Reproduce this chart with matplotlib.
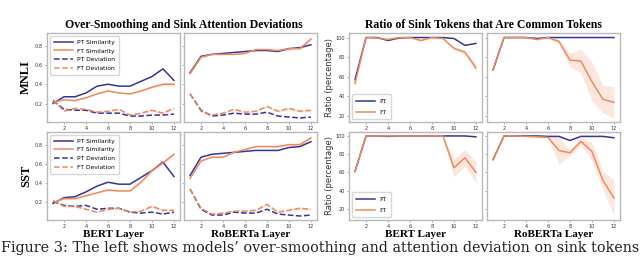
import numpy as np
import matplotlib
matplotlib.use("Agg")
import matplotlib.pyplot as plt

layers = list(range(1, 13))

# over-smoothing / deviation curves (MNLI row, SST row)
mnli_bert_pt_sim = [0.20, 0.27, 0.27, 0.31, 0.38, 0.40, 0.38, 0.38, 0.43, 0.48, 0.56, 0.44]
mnli_bert_ft_sim = [0.21, 0.24, 0.23, 0.26, 0.30, 0.33, 0.31, 0.30, 0.33, 0.37, 0.40, 0.40]
mnli_bert_pt_dev = [0.23, 0.14, 0.13, 0.13, 0.10, 0.10, 0.10, 0.07, 0.07, 0.08, 0.08, 0.09]
mnli_bert_ft_dev = [0.24, 0.12, 0.15, 0.14, 0.11, 0.12, 0.14, 0.08, 0.10, 0.13, 0.10, 0.15]
mnli_rob_pt_sim = [0.52, 0.69, 0.71, 0.72, 0.73, 0.74, 0.75, 0.75, 0.74, 0.77, 0.78, 0.81]
mnli_rob_ft_sim = [0.51, 0.68, 0.71, 0.71, 0.71, 0.72, 0.76, 0.76, 0.75, 0.77, 0.77, 0.87]
mnli_rob_pt_dev = [0.30, 0.13, 0.07, 0.08, 0.10, 0.09, 0.09, 0.11, 0.07, 0.06, 0.05, 0.06]
mnli_rob_ft_dev = [0.30, 0.12, 0.08, 0.10, 0.14, 0.11, 0.12, 0.17, 0.12, 0.15, 0.12, 0.13]

sst_bert_pt_sim = [0.19, 0.25, 0.26, 0.31, 0.37, 0.41, 0.39, 0.39, 0.46, 0.53, 0.62, 0.47]
sst_bert_ft_sim = [0.20, 0.24, 0.24, 0.27, 0.30, 0.33, 0.32, 0.32, 0.41, 0.53, 0.61, 0.70]
sst_bert_pt_dev = [0.21, 0.17, 0.16, 0.17, 0.13, 0.14, 0.14, 0.10, 0.09, 0.10, 0.08, 0.10]
sst_bert_ft_dev = [0.22, 0.16, 0.16, 0.13, 0.10, 0.13, 0.14, 0.10, 0.11, 0.16, 0.12, 0.12]
sst_rob_pt_sim = [0.48, 0.67, 0.70, 0.71, 0.72, 0.73, 0.74, 0.74, 0.74, 0.77, 0.78, 0.83]
sst_rob_ft_sim = [0.45, 0.63, 0.67, 0.67, 0.72, 0.75, 0.78, 0.78, 0.78, 0.80, 0.80, 0.87]
sst_rob_pt_dev = [0.34, 0.13, 0.07, 0.07, 0.10, 0.09, 0.09, 0.13, 0.08, 0.07, 0.06, 0.07]
sst_rob_ft_dev = [0.34, 0.14, 0.08, 0.09, 0.11, 0.11, 0.12, 0.18, 0.10, 0.12, 0.14, 0.13]

# small spread around FT curves
ft_sim_spread = [0.0, 0.005, 0.005, 0.005, 0.005, 0.005, 0.005, 0.005, 0.01, 0.01, 0.015, 0.02]
ft_dev_spread = [0.0, 0.005, 0.005, 0.005, 0.008, 0.008, 0.008, 0.01, 0.01, 0.012, 0.012, 0.01]

# ratio of sink tokens that are common tokens (%)
mnli_bert_pt_ratio = [57, 100, 100, 97, 99.5, 100, 100, 100, 100, 99, 92, 94]
mnli_bert_ft_ratio = [53, 100, 99.5, 98, 100, 100, 97, 100, 99, 89, 85, 69]
mnli_bert_ft_spread = [0, 0, 0.5, 0.5, 0.5, 0.5, 1, 0.5, 1, 1.5, 2.5, 4]
mnli_rob_pt_ratio = [67, 100, 100, 100, 99, 100, 100, 100, 100, 100, 100, 100]
mnli_rob_ft_ratio = [67, 100, 100, 100, 98, 100, 96, 77, 76, 55, 37, 34]
mnli_rob_ft_spread = [0, 0, 0, 0, 1, 0.5, 2, 7, 12, 20, 14, 16]

sst_bert_pt_ratio = [61, 100, 100, 99.5, 100, 100, 100, 100, 100, 100, 100, 99]
sst_bert_ft_ratio = [61, 100, 100, 100, 100, 100, 100, 100, 100, 65, 76, 60]
sst_bert_ft_spread = [0, 0, 0, 0, 0, 0, 0, 0, 0, 10, 9, 12]
sst_rob_pt_ratio = [74, 100, 100, 100, 100, 99.5, 99.5, 95, 99.5, 99.5, 99.5, 98]
sst_rob_ft_ratio = [74, 100, 100, 99.5, 99, 98.5, 84, 81.5, 94, 83, 51, 32]
sst_rob_ft_spread = [0, 0, 0, 0, 0.5, 1, 15, 3, 4, 10, 10, 20]

PT = "#34349a"
FT = "#ef8a5c"
SPINE = "#b8b8b8"
serif = ["Liberation Serif", "DejaVu Serif"]

fig = plt.figure(figsize=(6.4, 2.56), dpi=100)

W = 0.2078
xs = [0.0734, 0.2875, 0.5453, 0.7609]
ys = [0.5234, 0.1406]
hs = [0.3477, 0.344]


def style(ax):
    for s in ax.spines.values():
        s.set_color(SPINE)
        s.set_linewidth(1.0)
    ax.tick_params(length=1.5, width=0.5, color="#888888", pad=1.5,
                   labelsize=3.6, labelcolor="#333333")
    ax.set_xticks([2, 4, 6, 8, 10, 12])


def sim_panel(ax, pt_sim, ft_sim, pt_dev, ft_dev, legend):
    x = np.array(layers)
    ax.plot(x, pt_sim, color=PT, lw=1.1, label="PT Similarity")
    ax.plot(x, ft_sim, color=FT, lw=1.1, label="FT Similarity")
    ax.fill_between(x, np.array(ft_sim) - ft_sim_spread, np.array(ft_sim) + ft_sim_spread,
                    color=FT, alpha=0.2, lw=0)
    ax.plot(x, pt_dev, color=PT, lw=1.1, ls="--", label="PT Deviation")
    ax.plot(x, ft_dev, color=FT, lw=1.1, ls="--", label="FT Deviation")
    ax.fill_between(x, np.array(ft_dev) - ft_dev_spread, np.array(ft_dev) + ft_dev_spread,
                    color=FT, alpha=0.2, lw=0)
    style(ax)
    if legend:
        ax.legend(loc="upper left", fontsize=4.3, handlelength=3.2, borderpad=0.6,
                  labelspacing=0.6, frameon=True, edgecolor="#cccccc", fancybox=True)


def ratio_panel(ax, pt, ft, spread, legend):
    x = np.array(layers)
    ax.plot(x, pt, color=PT, lw=1.1, label="PT")
    ax.plot(x, ft, color=FT, lw=1.1, label="FT")
    ax.fill_between(x, np.array(ft) - spread, np.array(ft) + spread,
                    color=FT, alpha=0.2, lw=0)
    style(ax)
    ax.set_yticks([20, 40, 60, 80, 100])
    if legend:
        ax.legend(loc="lower left", handlelength=3.0, borderpad=0.7,
                  labelspacing=0.9, frameon=True, edgecolor="#cccccc",
                  prop={"family": serif, "size": 4.4})


rows = [
    (mnli_bert_pt_sim, mnli_bert_ft_sim, mnli_bert_pt_dev, mnli_bert_ft_dev,
     mnli_rob_pt_sim, mnli_rob_ft_sim, mnli_rob_pt_dev, mnli_rob_ft_dev,
     mnli_bert_pt_ratio, mnli_bert_ft_ratio, mnli_bert_ft_spread,
     mnli_rob_pt_ratio, mnli_rob_ft_ratio, mnli_rob_ft_spread, "MNLI"),
    (sst_bert_pt_sim, sst_bert_ft_sim, sst_bert_pt_dev, sst_bert_ft_dev,
     sst_rob_pt_sim, sst_rob_ft_sim, sst_rob_pt_dev, sst_rob_ft_dev,
     sst_bert_pt_ratio, sst_bert_ft_ratio, sst_bert_ft_spread,
     sst_rob_pt_ratio, sst_rob_ft_ratio, sst_rob_ft_spread, "SST"),
]

for r, d in enumerate(rows):
    a0 = fig.add_axes([xs[0], ys[r], W, hs[r]])
    a1 = fig.add_axes([xs[1], ys[r], W, hs[r]], sharey=a0)
    a2 = fig.add_axes([xs[2], ys[r], W, hs[r]])
    a3 = fig.add_axes([xs[3], ys[r], W, hs[r]], sharey=a2)
    sim_panel(a0, d[0], d[1], d[2], d[3], True)
    sim_panel(a1, d[4], d[5], d[6], d[7], False)
    ratio_panel(a2, d[8], d[9], d[10], True)
    ratio_panel(a3, d[11], d[12], d[13], False)
    a0.set_yticks([0.2, 0.4, 0.6, 0.8])
    a1.tick_params(labelleft=False)
    a3.tick_params(labelleft=False)
    a0.set_ylabel(d[14], family=serif, weight="bold", fontsize=9, labelpad=2)
    a2.set_ylabel("Ratio (percentage)", fontsize=6, color="#333333", labelpad=1)
    if r == 1:
        for ax, name in [(a0, "BERT Layer"), (a1, "RoBERTa Layer"),
                         (a2, "BERT Layer"), (a3, "RoBERTa Layer")]:
            ax.set_xlabel(name, family=serif, weight="bold", fontsize=8, labelpad=0.5)

fig.text(0.287, 0.902, "Over-Smoothing and Sink Attention Deviations",
         family=serif, weight="bold", fontsize=8.5, ha="center", va="center")
fig.text(0.755, 0.902, "Ratio of Sink Tokens that Are Common Tokens",
         family=serif, weight="bold", fontsize=8.5, ha="center", va="center")

fig.text(0.002, 0.014, "Figure 3: The left shows models\u2019 over-smoothing and attention deviation on sink tokens",
         family=["DejaVu Serif"], fontsize=10.4, ha="left", va="baseline", color="#222222")

fig.savefig("out.png", dpi=100)
